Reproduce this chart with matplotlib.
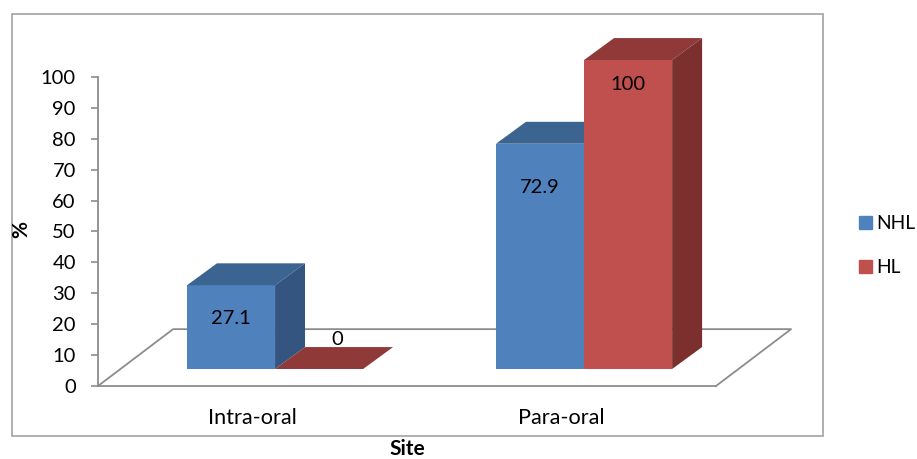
import matplotlib
matplotlib.use("Agg")
import matplotlib.pyplot as plt
from matplotlib.patches import Patch, Rectangle

plt.rcParams['font.family'] = ['Lato', 'DejaVu Sans']

sites = ['Intra-oral', 'Para-oral']
nhl = [27.1, 72.9]
hl = [0, 100]
series_names = ['NHL', 'HL']
yticks = list(range(0, 101, 10))

W, H = 917, 459
fig = plt.figure(figsize=(W / 100, H / 100), dpi=100)
fig.add_artist(Rectangle((12 / W, 1 - 436 / H), 811 / W, 422 / H, transform=fig.transFigure,
                         fill=False, ec='#a9a9a9', lw=1.3))

ax = fig.add_axes([98 / W, 1 - 386 / H, 618 / W, 309 / H])
ax.set_xlim(0, 2)
ax.set_ylim(0, 100)

# fake 3d, depth offsets are in data units
floor_dx, floor_dy = 0.243, 18.4
bar_dx, bar_dy = 0.097, 7.1
base = 5.5
width = 0.285
shift = 0.073


def draw_bar(x, val, front, top, side):
    y = base + val
    ax.bar(x, val, width, bottom=base, align='edge', color=front, zorder=3, clip_on=False)
    ax.fill([x, x + width, x + width + bar_dx, x + bar_dx],
            [y, y, y + bar_dy, y + bar_dy], color=top, lw=0, zorder=3, clip_on=False)
    ax.fill([x + width, x + width + bar_dx, x + width + bar_dx, x + width],
            [base, base + bar_dy, y + bar_dy, y], color=side, lw=0, zorder=3, clip_on=False)


# floor
ax.plot([0, floor_dx, 2 + floor_dx, 2], [0, floor_dy, floor_dy, 0], color='#8c8c8c', lw=1.3,
        zorder=1, clip_on=False)

for i in range(len(sites)):
    c = i + 0.5 + shift
    draw_bar(c - width, nhl[i], '#4f81bd', '#3c6490', '#335580')
    if hl[i] > 0:
        draw_bar(c, hl[i], '#c0504d', '#8f3a38', '#7b302e')
    else:
        draw_bar(c, hl[i], '#c0504d', '#8f3a38', '#8f3a38')

label_offset_nhl = [-10.9, -14]
label_offset_hl = [9.7, -7.8]
for i in range(len(sites)):
    c = i + 0.5 + shift
    ax.text(c - width / 2, base + nhl[i] + label_offset_nhl[i], str(nhl[i]), ha='center', va='center',
            fontsize=14.5, color='black', zorder=5)
    xoff = 0.06 if hl[i] == 0 else 0
    ax.text(c + width / 2 + xoff, base + hl[i] + label_offset_hl[i], str(hl[i]), ha='center', va='center',
            fontsize=14.5, color='black', zorder=5)

for s in ['top', 'right']:
    ax.spines[s].set_visible(False)
ax.spines['left'].set_color('#8c8c8c')
ax.spines['left'].set_linewidth(1.3)
ax.spines['bottom'].set_color('#8c8c8c')
ax.spines['bottom'].set_linewidth(1.3)
ax.patch.set_alpha(0)

ax.set_yticks(yticks)
ax.tick_params(axis='y', length=5, width=1.2, color='#8c8c8c', labelsize=14.5, pad=11, direction='out')
ax.set_xticks([i + 0.5 for i in range(len(sites))])
ax.set_xticklabels(sites)
ax.tick_params(axis='x', length=0, labelsize=15.6, pad=16)

fig.text(21 / W, 1 - 230 / H, '%', rotation=90, ha='center', va='center', fontsize=15, fontweight='bold')
fig.text(407 / W, 1 - 449 / H, 'Site', ha='center', va='center', fontsize=15, fontweight='bold')

handles = [Patch(color='#4f81bd', label=series_names[0]), Patch(color='#c0504d', label=series_names[1])]
fig.legend(handles=handles, loc='upper left', bbox_to_anchor=(859 / W, 1 - 215 / H), frameon=False,
           fontsize=13.8, handlelength=0.68, handleheight=0.68, handletextpad=0.2, labelspacing=1.4,
           borderpad=0, borderaxespad=0)

fig.savefig('out.png', dpi=100)
